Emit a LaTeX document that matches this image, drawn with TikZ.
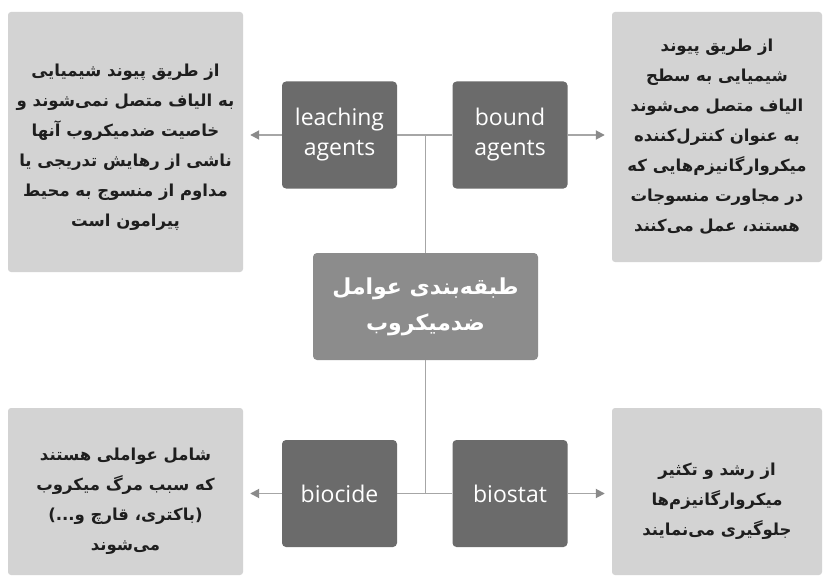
\documentclass[tikz,border=0pt]{standalone}
\usepackage{fontspec}
\setmainfont{Open Sans}
\newfontfamily\arabicfont[Script=Arabic]{DejaVu Sans}
\TeXXeTstate=1
\usetikzlibrary{arrows.meta}
\definecolor{lightbox}{HTML}{D3D3D3}
\definecolor{darkbox}{HTML}{6B6B6B}
\definecolor{midbox}{HTML}{8C8C8C}
\definecolor{linegray}{HTML}{A6A6A6}
\definecolor{tipgray}{HTML}{8A8A8A}
\definecolor{txt}{HTML}{1E1E1E}
\newcommand{\fa}[1]{{\arabicfont\bfseries\beginR #1\endR}}
\begin{document}
\begin{tikzpicture}[x=1pt,y=-1pt,
  infobox/.style={rectangle, rounded corners=3pt, fill=lightbox, inner sep=0pt},
  infotext/.style={text=txt, align=center, font=\fontsize{16.5}{30}\selectfont, inner sep=0pt},
  agentbox/.style={rectangle, rounded corners=4pt, fill=darkbox, text=white, align=center,
    font=\fontsize{23}{30}\selectfont, minimum width=115pt, minimum height=107pt, inner sep=0pt},
  rootbox/.style={rectangle, rounded corners=4pt, fill=midbox, text=white, align=center,
    font=\fontsize{22}{36}\selectfont, minimum width=225pt, minimum height=107pt, inner sep=0pt},
  link/.style={draw=linegray, line width=1.8pt},
  arr/.style={draw=linegray, line width=1.8pt, -{Triangle[length=9pt,width=9pt,color=tipgray]}, shorten >=7pt}]
\useasboundingbox (0,0) rectangle (828,578);
\fill[white] (0,0) rectangle (828,578);

% information boxes
\node[infobox, minimum width=235pt, minimum height=260pt] (tl) at (125.5,142) {};
\node[infotext] (tltext) at ([yshift=-5pt]tl.center) {%
\fa{از طریق پیوند شیمیایی}\\
\fa{به الیاف متصل نمی‌شوند و}\\
\fa{خاصیت ضدمیکروب آنها}\\
\fa{ناشی از رهایش تدریجی یا}\\
\fa{مداوم از منسوج به محیط}\\
\fa{پیرامون است}};

\node[infobox, minimum width=210pt, minimum height=250pt] (tr) at (717,137) {};
\node[infotext] (trtext) at (tr.center) {%
\fa{از طریق پیوند}\\
\fa{شیمیایی به سطح}\\
\fa{الیاف متصل می‌شوند}\\
\fa{به عنوان کنترل‌کننده}\\
\fa{میکروارگانیزم‌هایی که}\\
\fa{در مجاورت منسوجات}\\
\fa{هستند، عمل می‌کنند}};

\node[infobox, minimum width=235pt, minimum height=167pt] (bl) at (125.5,491.5) {};
\node[infotext] (bltext) at ([yshift=-10pt]bl.center) {%
\fa{شامل عواملی هستند}\\
\fa{که سبب مرگ میکروب}\\
\fa{‏(باکتری، قارچ و...)‏}\\
\fa{می‌شوند}};

\node[infobox, minimum width=210pt, minimum height=167pt] (br) at (717,491.5) {};
\node[infotext] (brtext) at ([yshift=-10pt]br.center) {%
\fa{از رشد و تکثیر}\\
\fa{میکروارگانیزم‌ها}\\
\fa{جلوگیری می‌نمایند}};

% agent boxes
\node[agentbox] (leach) at (339.5,135) {leaching\\agents};
\node[agentbox] (bound) at (510,135) {bound\\agents};
\node[agentbox] (biocide) at (339.5,493.5) {biocide};
\node[agentbox] (biostat) at (510,493.5) {biostat};

% root
\node[rootbox] (root) at (425.5,306.5) {%
\fa{طبقه‌بندی عوامل}\\
\fa{ضدمیکروب}};

% junctions
\coordinate (jt) at (root.north |- leach.east);
\coordinate (jb) at (root.south |- biocide.east);

% connectors
\draw[link] (leach.east) -- (bound.west);
\draw[link] (jt) -- (root.north);
\draw[link] (root.south) -- (jb);
\draw[link] (biocide.east) -- (biostat.west);

\draw[arr] (leach.west) -- (leach.west -| tl.east);
\draw[arr] (bound.east) -- (bound.east -| tr.west);
\draw[arr] (biocide.west) -- (biocide.west -| bl.east);
\draw[arr] (biostat.east) -- (biostat.east -| br.west);
\end{tikzpicture}
\end{document}
